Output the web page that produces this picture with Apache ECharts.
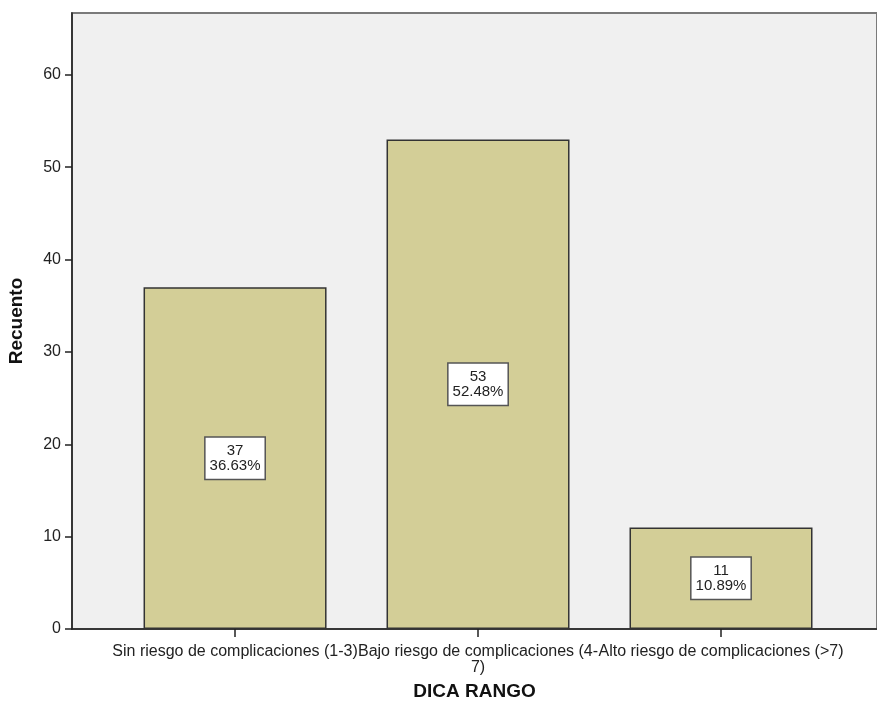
<!DOCTYPE html>
<html>
<head>
<meta charset="utf-8">
<title>DICA RANGO</title>
<script src="https://cdn.jsdelivr.net/npm/echarts@6/dist/echarts.min.js"></script>
<style>
  html, body { margin: 0; padding: 0; background: #fff; }
  #chart { width: 877px; height: 709px; }
</style>
</head>
<body>
<div id="chart"></div>
<script>
// categorias del eje X
const categories = [
  'Sin riesgo de complicaciones (1-3)',
  'Bajo riesgo de complicaciones (4-\n7)',
  'Alto riesgo de complicaciones (>7)'
]
// recuento por categoria
const counts = [37, 53, 11]
const yTicks = [0, 10, 20, 30, 40, 50, 60]
const xTicks = [0, 1, 2]

const total = counts.reduce((a, b) => a + b, 0)
const font = 'Liberation Sans, Arial, sans-serif'

const chart = echarts.init(document.getElementById('chart'))
chart.setOption({
  animation: false,
  textStyle: { fontFamily: font },
  grid: {
    left: 72,
    right: 0,
    top: 13,
    bottom: 80,
    outerBoundsMode: 'none',
    containLabel: false,
    show: true,
    backgroundColor: '#f0f0f0',
    borderColor: '#7a7a7a',
    borderWidth: 2
  },
  xAxis: {
    type: 'value',
    min: -0.671,
    max: 2.642,
    name: 'DICA RANGO',
    nameLocation: 'middle',
    nameGap: 53,
    nameTextStyle: { fontSize: 19, fontWeight: 'bold', color: '#111', fontFamily: font },
    axisLine: { show: true, onZero: false, lineStyle: { color: '#222', width: 1.5 } },
    axisTick: { show: true, customValues: xTicks, length: 8, lineStyle: { color: '#222', width: 1.5 } },
    axisLabel: {
      customValues: xTicks,
      formatter: v => categories[v],
      hideOverlap: false,
      fontSize: 16,
      lineHeight: 16,
      color: '#222',
      margin: 15,
      fontFamily: font
    },
    splitLine: { show: false }
  },
  yAxis: {
    type: 'value',
    min: 0,
    max: 66.7,
    interval: 10,
    name: 'Recuento',
    nameLocation: 'middle',
    nameGap: 46,
    nameRotate: 90,
    nameTextStyle: { fontSize: 19, fontWeight: 'bold', color: '#111', fontFamily: font },
    axisLine: { show: true, onZero: false, lineStyle: { color: '#222', width: 1.5 } },
    axisTick: { show: true, customValues: yTicks, length: 7, lineStyle: { color: '#222', width: 1.5 } },
    axisLabel: { customValues: yTicks, fontSize: 16, color: '#222', margin: 11, fontFamily: font },
    splitLine: { show: false }
  },
  series: [
    {
      type: 'bar',
      barWidth: 183,
      data: counts.map((c, i) => [i, c]),
      itemStyle: { color: '#d3ce97', borderColor: '#333', borderWidth: 1.5 },
      label: {
        show: true,
        position: 'inside',
        formatter: p => p.value[1] + '\n' + (p.value[1] / total * 100).toFixed(2) + '%',
        fontSize: 15,
        lineHeight: 15,
        color: '#222',
        align: 'center',
        backgroundColor: '#fff',
        borderColor: '#555',
        borderWidth: 1.5,
        padding: [6, 4, 5, 4],
        fontFamily: font
      }
    }
  ]
})
</script>
</body>
</html>
